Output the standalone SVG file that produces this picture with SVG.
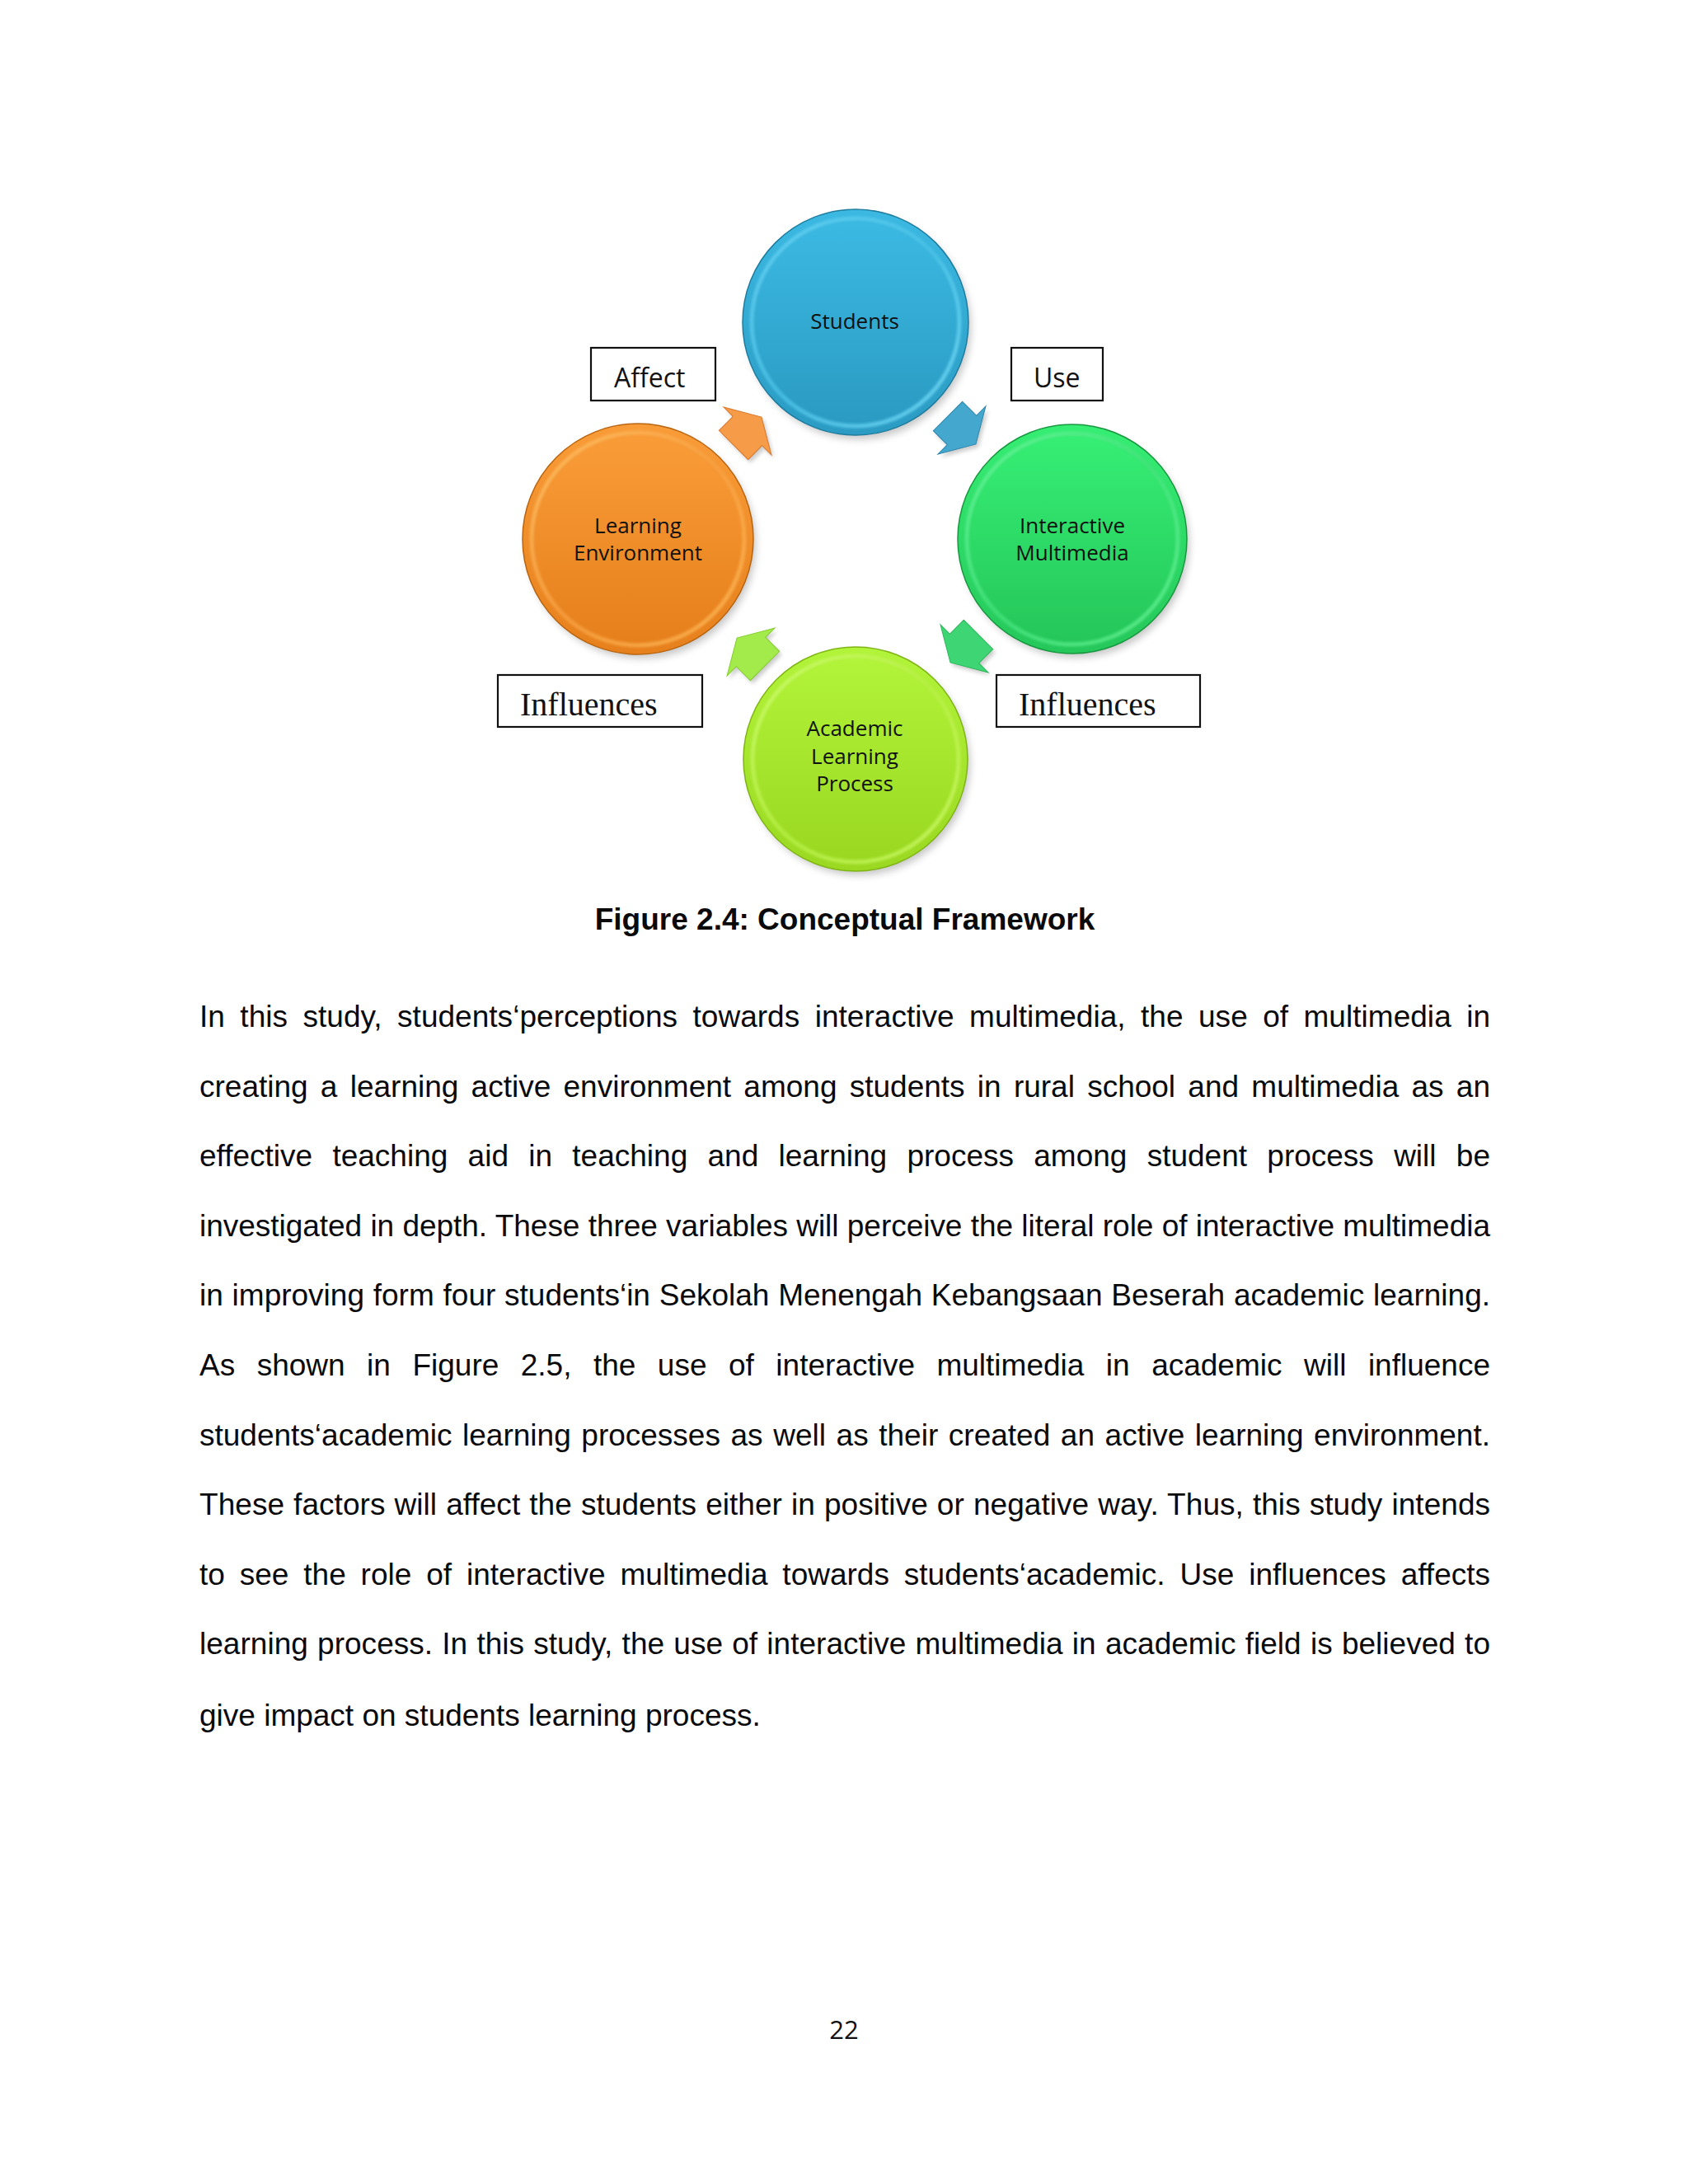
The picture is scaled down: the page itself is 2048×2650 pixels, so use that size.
<svg xmlns="http://www.w3.org/2000/svg" width="2048" height="2650" viewBox="0 0 2048 2650">
<defs>
<style>
.lbl{font-family:"Open Sans","Noto Sans",sans-serif;font-size:26px;fill:#111;text-anchor:middle}
.box{fill:#fff;stroke:#111;stroke-width:2.2}
.bt{font-family:"Open Sans","Noto Sans",sans-serif;font-size:32px;fill:#111}
.bs{font-family:"Liberation Serif","Times New Roman",serif;font-size:40px;fill:#111}
.body{font-family:"Liberation Sans",Arial,sans-serif;font-size:37px;fill:#0a0a0a}
.cap{font-family:"Liberation Sans",Arial,sans-serif;font-size:37px;font-weight:bold;fill:#0a0a0a;text-anchor:middle}
.pg{font-family:"Open Sans","Noto Sans",sans-serif;font-size:31px;fill:#111;text-anchor:middle}
.shadow{fill:#000;opacity:.22}
.rim{fill:none;stroke-width:5;opacity:.75}
</style>
<filter id="blur" x="-20%" y="-20%" width="140%" height="140%"><feGaussianBlur stdDeviation="5"/></filter>
<filter id="blur2" x="-20%" y="-20%" width="140%" height="140%"><feGaussianBlur stdDeviation="1.8"/></filter>
<filter id="ablur" x="-50%" y="-50%" width="200%" height="200%"><feGaussianBlur stdDeviation="2.5"/></filter>
<linearGradient id="gB" x1="0" y1="0" x2="0" y2="1"><stop offset="0" stop-color="#3bb9e2"/><stop offset="1" stop-color="#2b9bc3"/></linearGradient>
<linearGradient id="rB" x1="0" y1="0" x2="1" y2="1"><stop offset="0" stop-color="#6fd6f5"/><stop offset=".5" stop-color="#4cc3e8"/><stop offset="1" stop-color="#7fe2fb"/></linearGradient>
<linearGradient id="gG" x1="0" y1="0" x2="0" y2="1"><stop offset="0" stop-color="#36ee74"/><stop offset="1" stop-color="#25c75a"/></linearGradient>
<linearGradient id="rG" x1="0" y1="0" x2="1" y2="1"><stop offset="0" stop-color="#72f7a0"/><stop offset=".5" stop-color="#45e27d"/><stop offset="1" stop-color="#6ef59b"/></linearGradient>
<linearGradient id="gL" x1="0" y1="0" x2="0" y2="1"><stop offset="0" stop-color="#b2f43a"/><stop offset="1" stop-color="#9ad821"/></linearGradient>
<linearGradient id="rL" x1="0" y1="0" x2="1" y2="1"><stop offset="0" stop-color="#d2fd7a"/><stop offset=".5" stop-color="#b7ef45"/><stop offset="1" stop-color="#d0fb70"/></linearGradient>
<linearGradient id="gO" x1="0" y1="0" x2="0" y2="1"><stop offset="0" stop-color="#f99c38"/><stop offset="1" stop-color="#e6801c"/></linearGradient>
<linearGradient id="rO" x1="0" y1="0" x2="1" y2="1"><stop offset="0" stop-color="#ffc76e"/><stop offset=".5" stop-color="#f7a142"/><stop offset="1" stop-color="#ffbe5e"/></linearGradient>
<polygon id="arw" points="0,-25 24,-25 24,-41 48,0 24,41 24,25 0,25"/>
</defs>
<rect width="2048" height="2650" fill="#fff"/>

<g id="connectors">
<use href="#arw" transform="translate(893,544) rotate(-45)" fill="#000" opacity=".2" filter="url(#ablur)"/>
<use href="#arw" transform="translate(890,540) rotate(-45)" fill="#f69b47" stroke="#d9782a" stroke-width="1"/>
<use href="#arw" transform="translate(1153,509) rotate(45)" fill="#000" opacity=".2" filter="url(#ablur)"/>
<use href="#arw" transform="translate(1150,505) rotate(45)" fill="#44a8ce" stroke="#2d86aa" stroke-width="1"/>
<use href="#arw" transform="translate(1190,774) rotate(135)" fill="#000" opacity=".2" filter="url(#ablur)"/>
<use href="#arw" transform="translate(1187,770) rotate(135)" fill="#3ed674" stroke="#2cb65a" stroke-width="1"/>
<use href="#arw" transform="translate(931,812) rotate(-135)" fill="#000" opacity=".2" filter="url(#ablur)"/>
<use href="#arw" transform="translate(928,808) rotate(-135)" fill="#a3eb4b" stroke="#86cc30" stroke-width="1"/>
</g>

<g id="students">
<circle class="shadow" cx="1042" cy="397" r="136" filter="url(#blur)"/>
<circle cx="1038" cy="391" r="137" fill="url(#gB)" stroke="#1e7c9f" stroke-width="1.5"/>
<circle class="rim" cx="1038" cy="391" r="126" stroke="url(#rB)" filter="url(#blur2)"/>
<circle cx="1038" cy="391" r="121" fill="url(#gB)"/>
<text class="lbl" x="1037" y="399">Students</text>
</g>

<g id="interactive-multimedia">
<circle class="shadow" cx="1305" cy="660" r="138" filter="url(#blur)"/>
<circle cx="1301" cy="654" r="139" fill="url(#gG)" stroke="#17983f" stroke-width="1.5"/>
<circle class="rim" cx="1301" cy="654" r="128" stroke="url(#rG)" filter="url(#blur2)"/>
<circle cx="1301" cy="654" r="123" fill="url(#gG)"/>
<text class="lbl" x="1301" y="647">Interactive</text>
<text class="lbl" x="1301" y="680">Multimedia</text>
</g>

<g id="academic-learning-process">
<circle class="shadow" cx="1042" cy="927" r="135" filter="url(#blur)"/>
<circle cx="1038" cy="921" r="136" fill="url(#gL)" stroke="#7fb514" stroke-width="1.5"/>
<circle class="rim" cx="1038" cy="921" r="125" stroke="url(#rL)" filter="url(#blur2)"/>
<circle cx="1038" cy="921" r="120" fill="url(#gL)"/>
<text class="lbl" x="1037" y="893">Academic</text>
<text class="lbl" x="1037" y="927">Learning</text>
<text class="lbl" x="1037" y="960">Process</text>
</g>

<g id="learning-environment">
<circle class="shadow" cx="778" cy="660" r="139" filter="url(#blur)"/>
<circle cx="774" cy="654" r="140" fill="url(#gO)" stroke="#b9640f" stroke-width="1.5"/>
<circle class="rim" cx="774" cy="654" r="129" stroke="url(#rO)" filter="url(#blur2)"/>
<circle cx="774" cy="654" r="124" fill="url(#gO)"/>
<text class="lbl" x="774" y="647">Learning</text>
<text class="lbl" x="774" y="680">Environment</text>
</g>

<g id="label-affect">
<rect class="box" x="717" y="422" width="151" height="64"/>
<text class="bt" x="745" y="470">Affect</text>
</g>
<g id="label-use">
<rect class="box" x="1227" y="422" width="111" height="64"/>
<text class="bt" x="1254" y="470">Use</text>
</g>
<g id="label-influences-left">
<rect class="box" x="604" y="819" width="248" height="63"/>
<text class="bs" x="631" y="868">Influences</text>
</g>
<g id="label-influences-right">
<rect class="box" x="1209" y="819" width="247" height="63"/>
<text class="bs" x="1236" y="868">Influences</text>
</g>

<text class="cap" x="1025" y="1128">Figure 2.4: Conceptual Framework</text>

<g id="body-text">
<text class="body" x="242" y="1246" word-spacing="8.1" textLength="1566" lengthAdjust="spacing">In this study, students‘perceptions towards interactive multimedia, the use of multimedia in</text>
<text class="body" x="242" y="1331" word-spacing="5" textLength="1566" lengthAdjust="spacing">creating a learning active environment among students in rural school and multimedia as an</text>
<text class="body" x="242" y="1415" word-spacing="14" textLength="1566" lengthAdjust="spacing">effective teaching aid in teaching and learning process among student process will be</text>
<text class="body" x="242" y="1500" textLength="1566" lengthAdjust="spacing">investigated in depth. These three variables will perceive the literal role of interactive multimedia</text>
<text class="body" x="242" y="1584" word-spacing="0.5" textLength="1566" lengthAdjust="spacing">in improving form four students‘in Sekolah Menengah Kebangsaan Beserah academic learning.</text>
<text class="body" x="242" y="1669" word-spacing="16.2" textLength="1566" lengthAdjust="spacing">As shown in Figure 2.5, the use of interactive multimedia in academic will influence</text>
<text class="body" x="242" y="1754" word-spacing="2.3" textLength="1566" lengthAdjust="spacing">students‘academic learning processes as well as their created an active learning environment.</text>
<text class="body" x="242" y="1838" word-spacing="0.75" textLength="1566" lengthAdjust="spacing">These factors will affect the students either in positive or negative way. Thus, this study intends</text>
<text class="body" x="242" y="1923" word-spacing="7.6" textLength="1566" lengthAdjust="spacing">to see the role of interactive multimedia towards students‘academic. Use influences affects</text>
<text class="body" x="242" y="2007" word-spacing="0.9" textLength="1566" lengthAdjust="spacing">learning process. In this study, the use of interactive multimedia in academic field is believed to</text>
<text class="body" x="242" y="2094">give impact on students learning process.</text>
</g>

<text class="pg" x="1024" y="2474">22</text>
</svg>
